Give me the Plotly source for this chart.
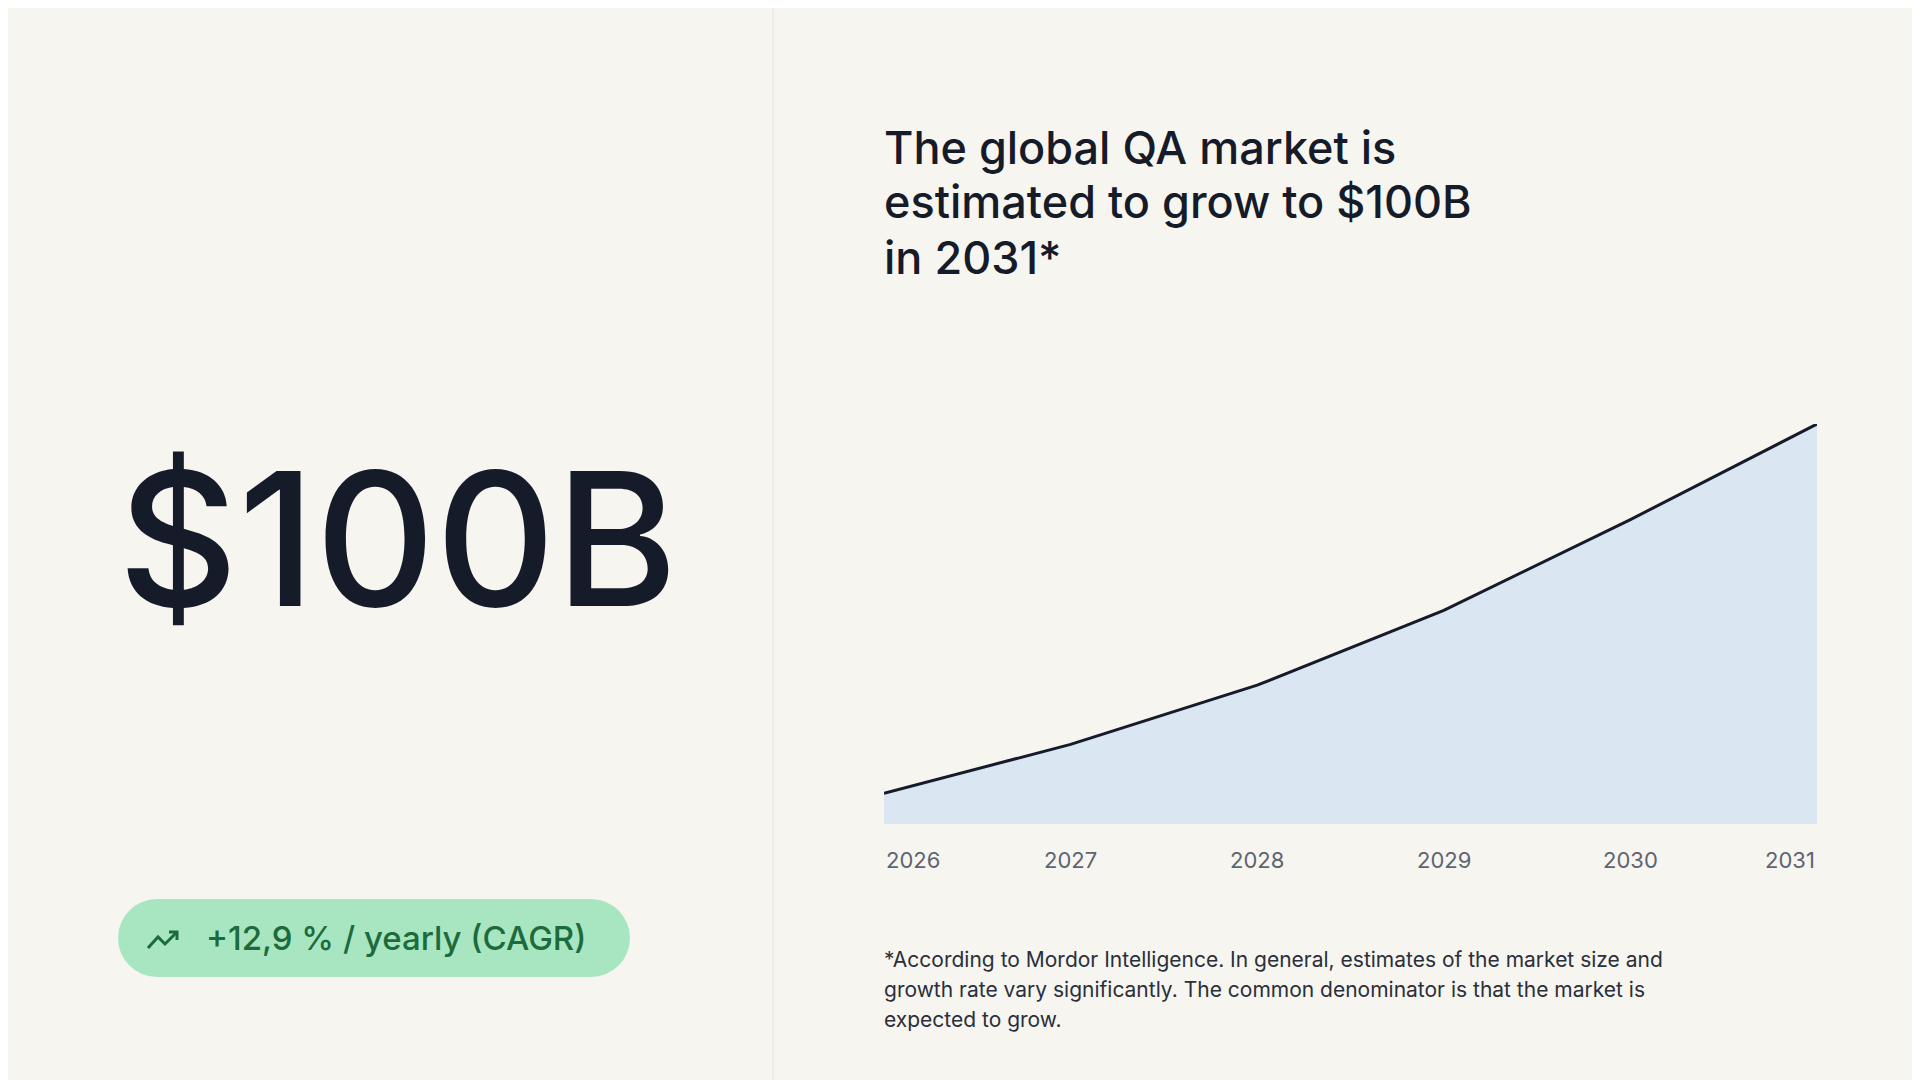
import plotly.graph_objects as go

W, H = 1920, 1080

years = [2026, 2027, 2028, 2029, 2030, 2031]
market = [7.7, 19.9, 34.7, 53.4, 76.1, 100]

headline = "$100B"
title_lines = ["The global QA market is", "estimated to grow to $100B", "in 2031*"]
pill_text = "+12,9 % / yearly (CAGR)"
footnote_lines = [
    "*According to Mordor Intelligence. In general, estimates of the market size and",
    "growth rate vary significantly. The common denominator is that the market is",
    "expected to grow.",
]

INK = "#161b29"
FONT = "Inter"
PILL = "#a8e6c1"


def px(x):
    return x / W


def py(y):
    return 1 - y / H


fig = go.Figure()
fig.add_trace(go.Scatter(
    x=years, y=market, mode="lines", fill="tozeroy",
    fillcolor="#dae6f2", line=dict(color=INK, width=3),
    hoverinfo="skip", showlegend=False,
))

# year labels, spread edge to edge like the original
for i, yr in enumerate(years):
    anchor = "left" if i == 0 else ("right" if i == len(years) - 1 else "center")
    fig.add_annotation(x=yr, y=py(852), xref="x", yref="paper", text=str(yr),
                       showarrow=False, xanchor=anchor, yanchor="middle",
                       font=dict(family=FONT, size=22, color="#5f6470"))

fig.add_annotation(x=px(108), y=py(530), xref="paper", yref="paper", text=headline,
                   showarrow=False, xanchor="left", yanchor="middle",
                   font=dict(family=FONT, size=186, color=INK, weight=500))

for i, line in enumerate(title_lines):
    fig.add_annotation(x=px(874), y=py(139 + i * 55), xref="paper", yref="paper", text=line,
                       showarrow=False, xanchor="left", yanchor="middle",
                       font=dict(family=FONT, size=45, color=INK, weight=500))

for i, line in enumerate(footnote_lines):
    fig.add_annotation(x=px(874), y=py(951 + i * 30), xref="paper", yref="paper", text=line,
                       showarrow=False, xanchor="left", yanchor="middle",
                       font=dict(family=FONT, size=21, color="#2a2f3a"))

# pill: rect + two round ends
r = 39
fig.add_shape(type="rect", xref="paper", yref="paper",
              x0=px(110 + r), x1=px(622 - r), y0=py(969), y1=py(891),
              fillcolor=PILL, line=dict(width=0), layer="below")
for cx in (110 + r, 622 - r):
    fig.add_shape(type="circle", xref="paper", yref="paper",
                  x0=px(cx - r), x1=px(cx + r), y0=py(969), y1=py(891),
                  fillcolor=PILL, line=dict(width=0), layer="below")
# trend icon
fig.add_shape(type="path", xref="paper", yref="paper",
              path=(f"M {px(140)},{py(940)} L {px(150)},{py(929)} L {px(157)},{py(936)} "
                    f"L {px(169)},{py(924)}"),
              line=dict(color="#1d6b3d", width=3))
fig.add_shape(type="path", xref="paper", yref="paper",
              path=f"M {px(161)},{py(924)} L {px(169)},{py(924)} L {px(169)},{py(932)}",
              line=dict(color="#1d6b3d", width=3))
fig.add_annotation(x=px(196), y=py(930), xref="paper", yref="paper", text=pill_text,
                   showarrow=False, xanchor="left", yanchor="middle",
                   font=dict(family=FONT, size=33, color="#1d6b3d", weight=500))

# divider
fig.add_shape(type="line", xref="paper", yref="paper", x0=px(765), x1=px(765), y0=0, y1=1,
              line=dict(color="#ebe9e2", width=1.5))

fig.update_layout(
    width=W, height=H, margin=dict(l=0, r=0, t=0, b=0),
    paper_bgcolor="#f6f5f0", plot_bgcolor="#f6f5f0",
    xaxis=dict(domain=[px(876), px(1809)], range=[2026, 2031], visible=False),
    yaxis=dict(domain=[py(816), py(416)], range=[0, 100], visible=False),
    showlegend=False,
)

fig.write_html("out.html")
